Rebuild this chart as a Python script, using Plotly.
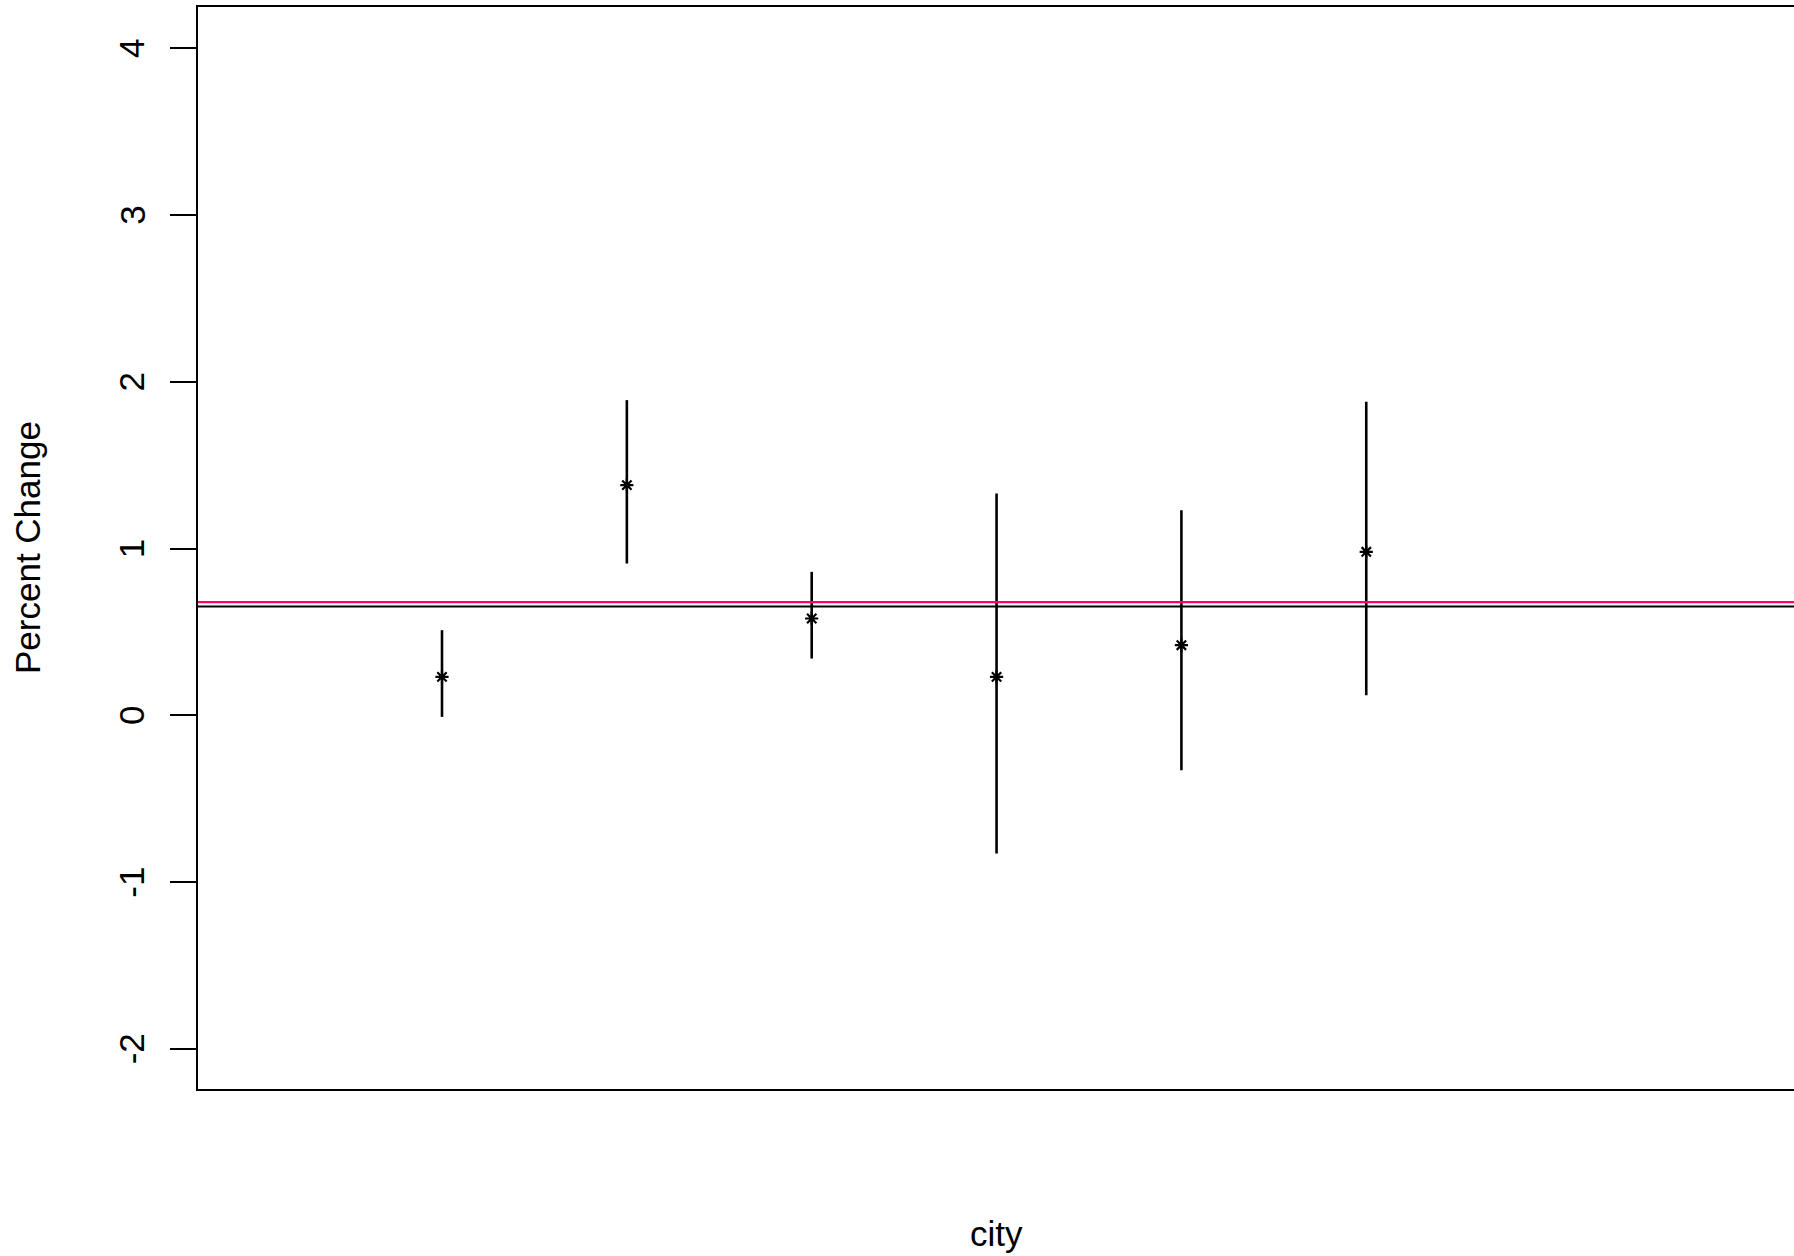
import plotly.graph_objects as go

# Per-city estimates with lower/upper interval bounds (percent change)
city_index = [1, 2, 3, 4, 5, 6]
estimate = [0.23, 1.38, 0.58, 0.23, 0.42, 0.98]
lower = [-0.01, 0.91, 0.34, -0.83, -0.33, 0.12]
upper = [0.51, 1.89, 0.86, 1.33, 1.23, 1.88]

# Reference levels drawn across the panel
pooled_level = 0.652
pooled_level_alt = 0.678

y_ticks = [-2, -1, 0, 1, 2, 3, 4]
y_tick_labels = ["-2", "-1", "0", "1", "2", "3", "4"]

FONT = "Liberation Sans, Arial, Helvetica, sans-serif"
FSIZE = 35
PLOT_W = 1596  # plotting-area width in px (1794 - left margin)

fig = go.Figure()

fig.add_trace(go.Scatter(
    x=city_index,
    y=estimate,
    mode="markers",
    marker=dict(symbol="asterisk-open", size=11, color="black",
                line=dict(color="black", width=2.2)),
    error_y=dict(
        type="data",
        symmetric=False,
        array=[u - e for u, e in zip(upper, estimate)],
        arrayminus=[e - l for e, l in zip(estimate, lower)],
        color="black",
        thickness=2.6,
        width=0,
    ),
    showlegend=False,
))

fig.add_hline(y=pooled_level, line=dict(color="black", width=2.2))
fig.add_hline(y=pooled_level_alt, line=dict(color="#FF0066", width=2.2))

# Vertical tick labels, centred on each tick
tick_annotations = [
    dict(text=lab, xref="paper", yref="y", x=(131.7 - 198) / PLOT_W, y=v,
         xanchor="center", yanchor="middle", textangle=-90, showarrow=False,
         font=dict(family=FONT, size=FSIZE, color="black"))
    for v, lab in zip(y_ticks, y_tick_labels)
]

fig.update_layout(
    width=1794,
    height=1256,
    margin=dict(l=198, r=0, t=7, b=167),
    paper_bgcolor="white",
    plot_bgcolor="white",
    font=dict(family=FONT, size=FSIZE, color="black"),
    xaxis=dict(
        range=[-0.32, 8.314],
        showgrid=False,
        zeroline=False,
        showticklabels=False,
        ticks="",
        showline=True,
        linecolor="black",
        linewidth=2.4,
        mirror=True,
    ),
    yaxis=dict(
        range=[-2.242, 4.248],
        tickvals=y_ticks,
        showticklabels=False,
        ticks="outside",
        ticklen=26,
        tickwidth=2.2,
        tickcolor="black",
        showgrid=False,
        zeroline=False,
        showline=True,
        linecolor="black",
        linewidth=2.4,
        mirror=False,
    ),
    annotations=tick_annotations + [
        dict(text="Percent Change", xref="paper", yref="paper",
             x=(27 - 198) / PLOT_W, y=0.5, xanchor="center", yanchor="middle",
             textangle=-90, showarrow=False,
             font=dict(family=FONT, size=FSIZE, color="black")),
        dict(text="city", xref="x", yref="paper",
             x=4, y=-(1233 - 1089) / 1082, xanchor="center", yanchor="middle",
             showarrow=False,
             font=dict(family=FONT, size=FSIZE, color="black")),
    ],
)

fig.write_html("out.html")
